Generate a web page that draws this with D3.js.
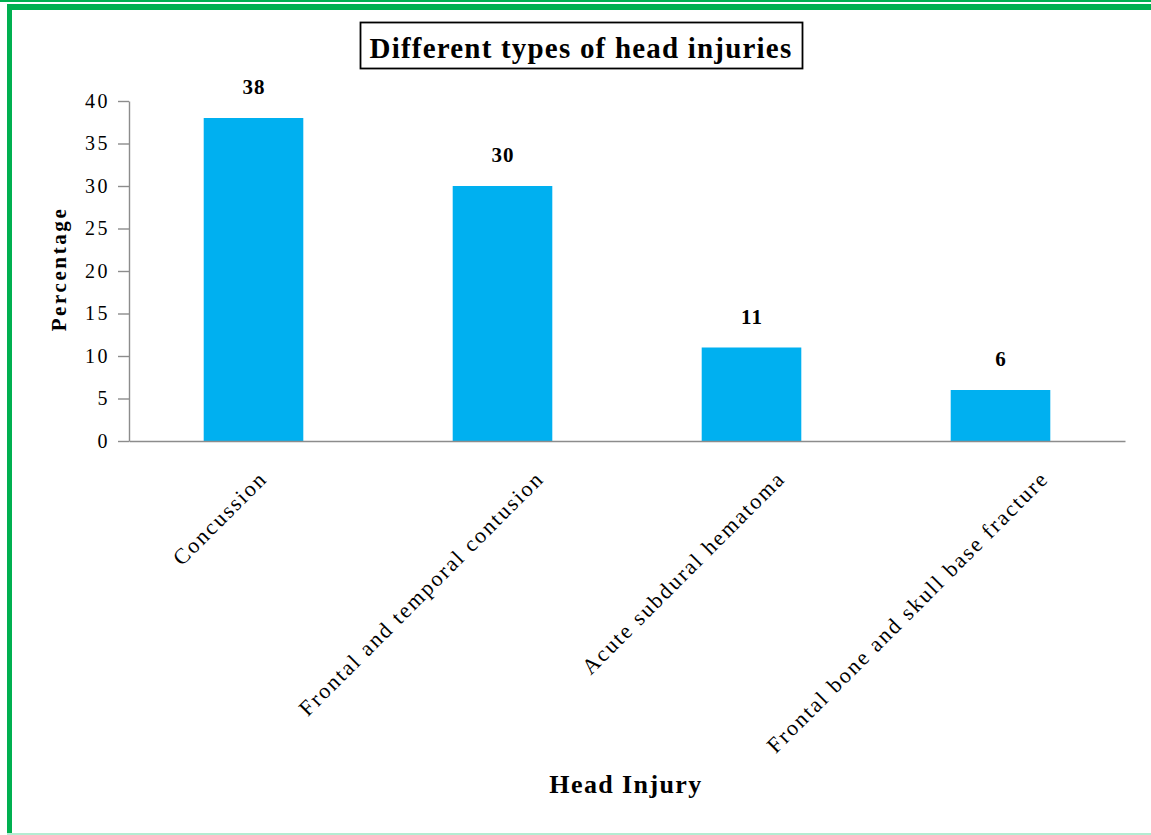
<!DOCTYPE html>
<html>
<head>
<meta charset="utf-8">
<script src="https://cdn.jsdelivr.net/npm/d3@7"></script>
<style>
  html, body { margin: 0; padding: 0; background: #fff; }
  svg { display: block; }
  text { font-family: "Liberation Serif", "Times New Roman", serif; fill: #000; }
</style>
</head>
<body>
<div id="chart"></div>
<script>
const categories = [
  "Concussion",
  "Frontal and temporal contusion",
  "Acute subdural hematoma",
  "Frontal bone and skull base fracture"
];
const percentages = [38, 30, 11, 6];
const yTicks = [0, 5, 10, 15, 20, 25, 30, 35, 40];
const titleText = "Different types of head injuries";
const xTitle = "Head Injury";
const yTitle = "Percentage";

const W = 1151, H = 835;
const margin = { top: 101, left: 129, right: 26, bottom: 394 };
const width = W - margin.left - margin.right;
const height = H - margin.top - margin.bottom;

const svg = d3.select("#chart").append("svg")
  .attr("width", W)
  .attr("height", H);

// green frame
svg.append("rect").attr("x", 0).attr("y", 0).attr("width", W).attr("height", 2).attr("fill", "#00b050");
svg.append("rect").attr("x", 7).attr("y", 4).attr("width", W - 7).attr("height", 6).attr("fill", "#00b050");
svg.append("rect").attr("x", 7).attr("y", 4).attr("width", 5).attr("height", H - 4).attr("fill", "#00b050");
svg.append("rect").attr("x", 7).attr("y", H - 2).attr("width", W - 7).attr("height", 2).attr("fill", "#b4ecd2");

const g = svg.append("g")
  .attr("transform", `translate(${margin.left}, ${margin.top})`);

const x = d3.scaleBand()
  .domain(categories)
  .range([0, width])
  .paddingInner(0.6)
  .paddingOuter(0.3);

const y = d3.scaleLinear()
  .domain([0, 40])
  .range([height, 0]);

// bars
g.selectAll(".bar")
  .data(categories)
  .join("rect")
    .attr("class", "bar")
    .attr("x", d => x(d))
    .attr("width", x.bandwidth())
    .attr("y", (d, i) => y(percentages[i]))
    .attr("height", (d, i) => height - y(percentages[i]))
    .attr("fill", "#00b0f0");

// value labels
g.selectAll(".val")
  .data(categories)
  .join("text")
    .attr("class", "val")
    .attr("x", d => x(d) + x.bandwidth() / 2 + 0.5)
    .attr("y", (d, i) => y(percentages[i]) - 24)
    .attr("text-anchor", "middle")
    .style("font-size", "21px")
    .style("font-weight", "bold")
    .style("letter-spacing", "1px")
    .text((d, i) => percentages[i]);

// y axis
const yAxis = g.append("g")
  .attr("class", "y-axis")
  .call(d3.axisLeft(y).tickValues(yTicks).tickSize(11).tickSizeOuter(0).tickPadding(8));

yAxis.select(".domain").attr("stroke", "#8c8c8c").attr("stroke-width", 1.4);
yAxis.selectAll(".tick line").attr("stroke", "#8c8c8c").attr("stroke-width", 1.4);
yAxis.selectAll(".tick text")
  .style("font-size", "20px")
  .style("letter-spacing", "2.5px")
  .style("font-family", "'Liberation Serif', 'Times New Roman', serif")
  .attr("fill", "#000");

// x axis
const xAxis = g.append("g")
  .attr("class", "x-axis")
  .attr("transform", `translate(0, ${height})`)
  .call(d3.axisBottom(x).tickSize(0).tickSizeOuter(0));

xAxis.select(".domain").attr("stroke", "#8c8c8c").attr("stroke-width", 1.4);
xAxis.selectAll(".tick text")
  .style("font-size", "22px")
  .style("letter-spacing", "2px")
  .style("font-family", "'Liberation Serif', 'Times New Roman', serif")
  .attr("fill", "#000")
  .attr("text-anchor", "end")
  .attr("x", 0)
  .attr("y", 0)
  .attr("dy", 0)
  .each(function () {
    const len = this.getComputedTextLength();
    d3.select(this).attr("transform", `translate(${0.13 * len - 1}, 39) rotate(-45)`);
  });

// title box
const title = svg.append("text")
  .attr("x", 581)
  .attr("y", 58)
  .attr("text-anchor", "middle")
  .style("font-size", "29px")
  .style("font-weight", "bold")
  .style("letter-spacing", "1.2px")
  .text(titleText);

svg.insert("rect", () => title.node())
  .attr("x", 360.5)
  .attr("y", 22.5)
  .attr("width", 442)
  .attr("height", 46)
  .attr("fill", "#fff")
  .attr("stroke", "#000")
  .attr("stroke-width", 1.8);

// axis titles
svg.append("text")
  .attr("transform", `translate(66, ${margin.top + height / 2 - 2}) rotate(-90)`)
  .attr("text-anchor", "middle")
  .style("font-size", "21px")
  .style("font-weight", "bold")
  .style("letter-spacing", "2.6px")
  .text(yTitle);

svg.append("text")
  .attr("x", 626)
  .attr("y", 793)
  .attr("text-anchor", "middle")
  .style("font-size", "26px")
  .style("font-weight", "bold")
  .style("letter-spacing", "1.4px")
  .text(xTitle);
</script>
</body>
</html>
